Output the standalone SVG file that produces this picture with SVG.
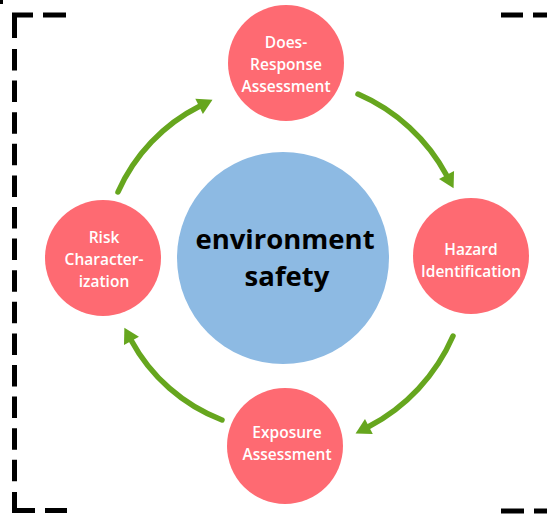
<svg xmlns="http://www.w3.org/2000/svg" width="547" height="515" viewBox="0 0 547 515">
<style>
.node{fill:#fe6a72}
.lbl{font-family:"Open Sans","Liberation Sans",sans-serif;font-weight:600;font-size:15.5px;fill:#ffffff;text-anchor:middle}
.ctr{font-family:"Open Sans","Liberation Sans",sans-serif;font-weight:700;font-size:27.5px;fill:#000000;text-anchor:middle}
.arc{fill:none;stroke:#66a61e;stroke-width:5.5;stroke-linecap:round;marker-end:url(#ah)}
.frame{fill:none;stroke:#000000;stroke-width:5}
</style>
<defs>
<marker id="ah" markerUnits="userSpaceOnUse" markerWidth="16" markerHeight="18" refX="0" refY="8.5" orient="auto" overflow="visible">
<path d="M-1,0 L14,8.5 L-1,17 Z" fill="#66a61e"/>
</marker>
</defs>
<g id="frame">
<rect x="0" y="0" width="3" height="4" fill="#000"/>
<path class="frame" d="M33 15 H14.5 V38"/>
<line class="frame" x1="43" y1="15" x2="66" y2="15"/>
<line class="frame" x1="14.5" y1="49" x2="14.5" y2="483" stroke-dasharray="21.5 10.1"/>
<path class="frame" d="M14.5 492 V510.5 H35"/>
<line class="frame" x1="45" y1="510.5" x2="67" y2="510.5"/>
<line class="frame" x1="501" y1="15" x2="523" y2="15"/>
<line class="frame" x1="533" y1="15" x2="547" y2="15"/>
<line class="frame" x1="501" y1="511" x2="524" y2="511"/>
<line class="frame" x1="534" y1="511" x2="547" y2="511"/>
</g>
<g id="connectors">
<path class="arc" d="M358 94 A183 183 0 0 1 447 176"/>
<path class="arc" d="M453 336 A186 186 0 0 1 368 427"/>
<path class="arc" d="M222 420 A174 174 0 0 1 131 340"/>
<path class="arc" d="M118 192 A176 176 0 0 1 200 106"/>
</g>
<g id="center">
<circle cx="283" cy="258" r="106" fill="#8dbae3"/>
<text class="ctr" x="285" y="249">environment</text>
<text class="ctr" x="287" y="286">safety</text>
</g>
<g id="dose-response">
<circle class="node" cx="286" cy="63" r="58"/>
<text class="lbl" x="286" y="48">Does-</text>
<text class="lbl" x="286" y="70">Response</text>
<text class="lbl" x="286" y="92">Assessment</text>
</g>
<g id="hazard">
<circle class="node" cx="471" cy="256" r="58"/>
<text class="lbl" x="471" y="255">Hazard</text>
<text class="lbl" x="471" y="277">Identification</text>
</g>
<g id="exposure">
<circle class="node" cx="285" cy="446" r="58"/>
<text class="lbl" x="287" y="438">Exposure</text>
<text class="lbl" x="287" y="460">Assessment</text>
</g>
<g id="risk">
<circle class="node" cx="103" cy="258" r="58"/>
<text class="lbl" x="104" y="243">Risk</text>
<text class="lbl" x="104" y="265">Character-</text>
<text class="lbl" x="104" y="287">ization</text>
</g>
</svg>
